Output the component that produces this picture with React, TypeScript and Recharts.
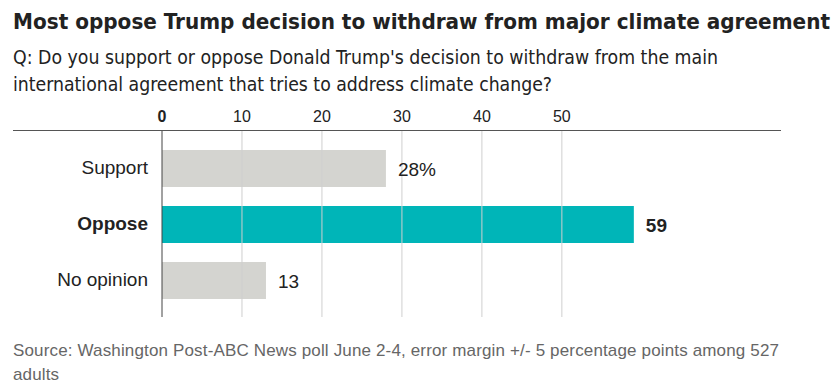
import React from "react";
import {
  BarChart,
  Bar,
  XAxis,
  YAxis,
  ReferenceLine,
  LabelList,
  Cell,
} from "recharts";

const categories = ["Support", "Oppose", "No opinion"];
const values = [28, 59, 13];
const valueLabels = ["28%", "59", "13"];
const xTicks = [0, 10, 20, 30, 40, 50];

const data = categories.map((name, i) => ({
  name,
  value: values[i],
  label: valueLabels[i],
}));

const GRAY = "#d4d4d0";
const TEAL = "#00b5b8";
const TEXT = "#222";
const BODY_FONT = "'Liberation Sans', Arial, sans-serif";
const NARROW_FONT = "'DejaVu Sans Condensed', 'Liberation Sans', sans-serif";

const XTick = (props: any) => {
  const { x, y, payload } = props;
  return (
    <text
      x={x}
      y={y}
      textAnchor="middle"
      fontSize={16}
      fontFamily={BODY_FONT}
      fill={TEXT}
      fontWeight={payload.value === 0 ? 700 : 400}
    >
      {payload.value}
    </text>
  );
};

const YTick = (props: any) => {
  const { x, y, payload } = props;
  return (
    <text
      x={x}
      y={y}
      dy={6}
      textAnchor="end"
      fontSize={19}
      fontFamily={BODY_FONT}
      fill={TEXT}
      fontWeight={payload.value === "Oppose" ? 700 : 400}
    >
      {payload.value}
    </text>
  );
};

const ValueLabel = (props: any) => {
  const { x, y, width, height, value, index } = props;
  return (
    <text
      x={x + width + 12}
      y={y + height / 2}
      dy={7}
      fontSize={19}
      fontFamily={BODY_FONT}
      fill={TEXT}
      fontWeight={categories[index] === "Oppose" ? 700 : 400}
    >
      {value}
    </text>
  );
};

export default function App() {
  return (
    <div
      style={{
        position: "absolute",
        left: 0,
        top: 0,
        width: 838,
        height: 390,
        background: "#fff",
        overflow: "hidden",
      }}
    >
      <svg
        width={838}
        height={100}
        style={{ position: "absolute", left: 0, top: 0 }}
      >
        <text
          x={13}
          y={29}
          fontFamily={NARROW_FONT}
          fontWeight={700}
          fontSize={22}
          fill="#222"
          textLength={817}
          lengthAdjust="spacingAndGlyphs"
        >
          Most oppose Trump decision to withdraw from major climate agreement
        </text>
        <text
          x={13}
          y={64}
          fontFamily={NARROW_FONT}
          fontSize={20}
          fill="#222"
          textLength={705}
          lengthAdjust="spacingAndGlyphs"
        >
          Q: Do you support or oppose Donald Trump's decision to withdraw from the main
        </text>
        <text
          x={13}
          y={91}
          fontFamily={NARROW_FONT}
          fontSize={20}
          fill="#222"
          textLength={539}
          lengthAdjust="spacingAndGlyphs"
        >
          international agreement that tries to address climate change?
        </text>
      </svg>

      <BarChart
        width={838}
        height={390}
        data={data}
        layout="vertical"
        margin={{ top: 111, right: 57, bottom: 73, left: 12 }}
        style={{ position: "absolute", left: 0, top: 0 }}
      >
        <XAxis
          type="number"
          orientation="top"
          domain={[0, 77.4]}
          ticks={xTicks}
          height={20}
          axisLine={false}
          tickLine={false}
          tickSize={0}
          tickMargin={9}
          tick={<XTick />}
          interval={0}
        />
        <YAxis
          type="category"
          dataKey="name"
          width={150}
          axisLine={false}
          tickLine={false}
          tickSize={0}
          tickMargin={14}
          tick={<YTick />}
          padding={{ top: 9, bottom: 9 }}
        />
        {xTicks.slice(1).map((t) => (
          <ReferenceLine key={t} x={t} stroke="#cfcfcf" strokeWidth={1} />
        ))}
        <ReferenceLine x={0} stroke="#444" strokeWidth={1} />
        <Bar dataKey="value" barSize={37} isAnimationActive={false}>
          {data.map((d) => (
            <Cell key={d.name} fill={d.name === "Oppose" ? TEAL : GRAY} />
          ))}
          <LabelList dataKey="label" content={<ValueLabel />} />
        </Bar>
      </BarChart>

      <div
        style={{
          position: "absolute",
          left: 13,
          top: 130,
          width: 768,
          height: 1,
          background: "#555",
        }}
      />

      <div
        style={{
          position: "absolute",
          left: 13,
          top: 339,
          width: 820,
          fontFamily: BODY_FONT,
          fontSize: 17,
          letterSpacing: "0.15px",
          lineHeight: "24px",
          color: "#666",
        }}
      >
        Source: Washington Post-ABC News poll June 2-4, error margin +/- 5 percentage points among 527
        <br />
        adults
      </div>
    </div>
  );
}
